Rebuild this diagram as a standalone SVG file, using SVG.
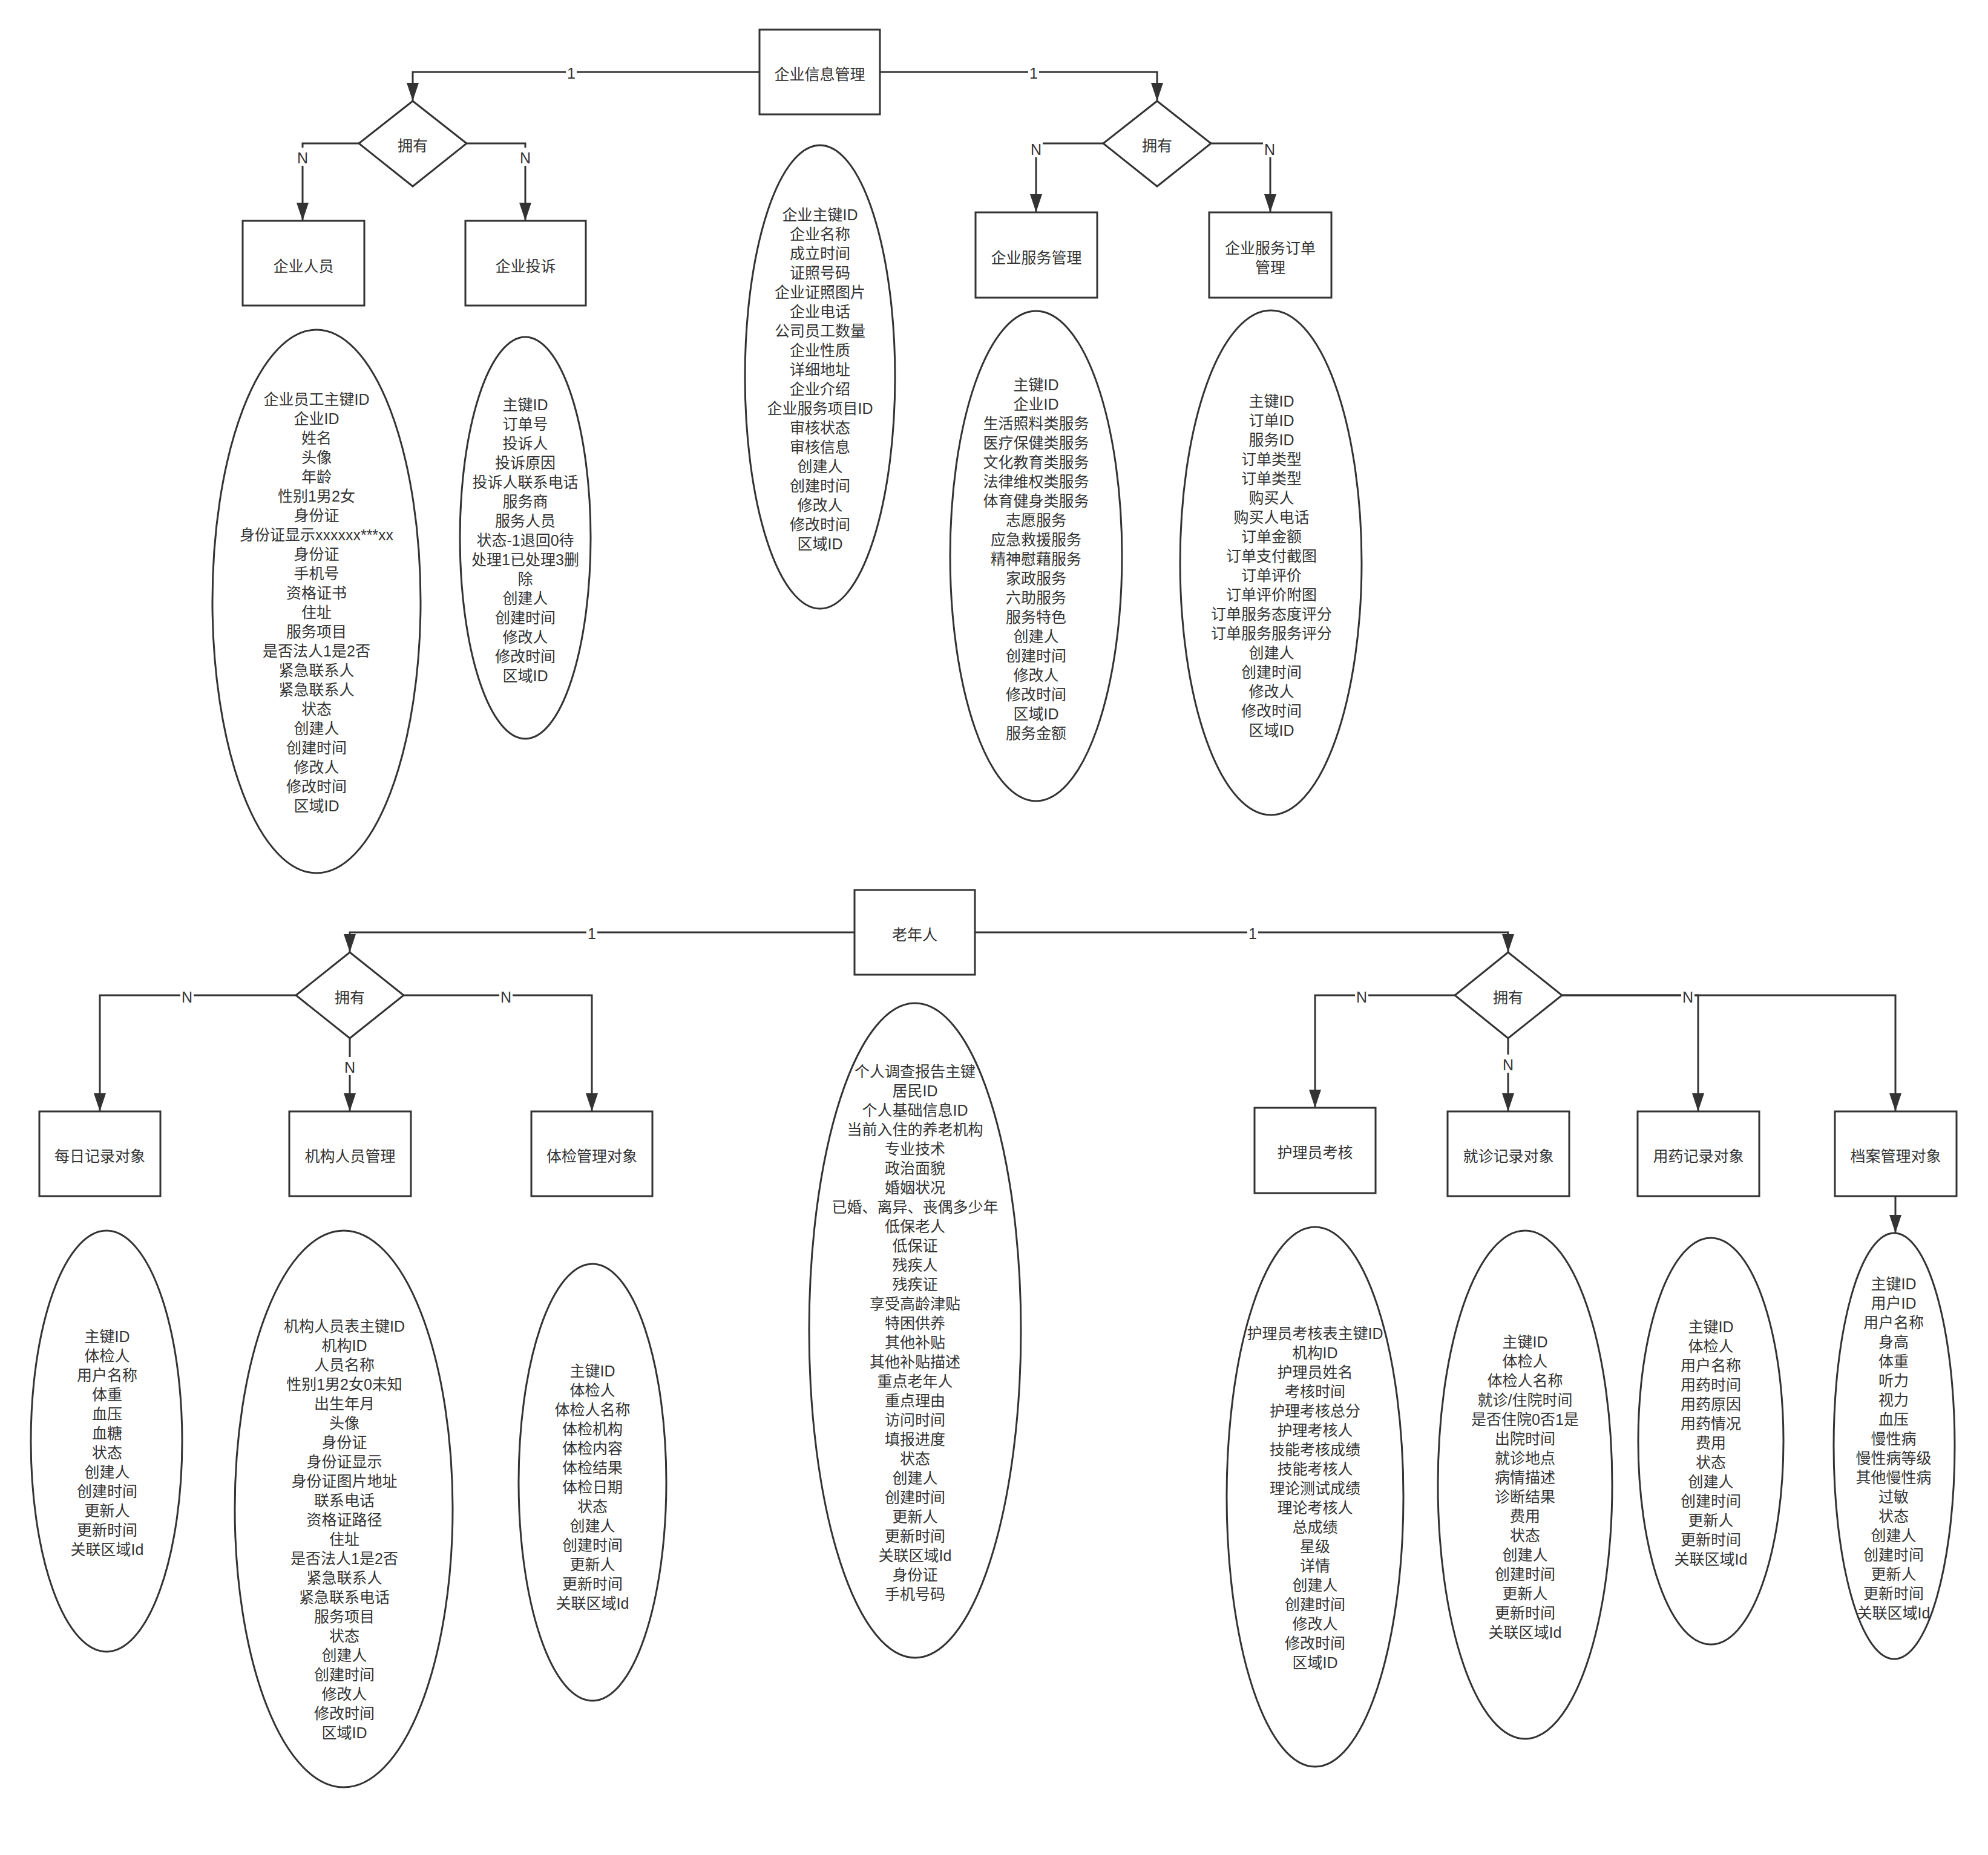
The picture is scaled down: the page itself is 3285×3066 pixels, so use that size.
<svg xmlns="http://www.w3.org/2000/svg" width="3285" height="3066" viewBox="0 0 3285 3066">
<style>
.c{fill:none;stroke:#333;stroke-width:3}
.b{fill:#fff;stroke:#333;stroke-width:3}
.t{font-family:"Liberation Sans","Noto Sans CJK SC",sans-serif;font-size:25px;fill:#333;text-anchor:middle;dominant-baseline:central}
.lb{fill:#fff}
</style>
<defs>
<marker id="arr" markerUnits="userSpaceOnUse" markerWidth="30" markerHeight="20" refX="30" refY="10" orient="auto" viewBox="0 0 30 20">
<path d="M0,0 L30,10 L0,20 Z" fill="#333"/>
</marker>
</defs>
<rect width="3285" height="3066" fill="#fff"/>

<g id="connectors">
<path class="c" d="M1255,119 H682 V167" marker-end="url(#arr)"/>
<path class="c" d="M1454,119 H1912 V167" marker-end="url(#arr)"/>
<path class="c" d="M593,237 H500 V365" marker-end="url(#arr)"/>
<path class="c" d="M771,237 H868 V365" marker-end="url(#arr)"/>
<path class="c" d="M1823,237 H1712 V351" marker-end="url(#arr)"/>
<path class="c" d="M2001,237 H2099 V351" marker-end="url(#arr)"/>
<path class="c" d="M1412,1541 H578 V1574" marker-end="url(#arr)"/>
<path class="c" d="M1611,1541 H2492 V1574" marker-end="url(#arr)"/>
<path class="c" d="M489,1645 H165 V1837" marker-end="url(#arr)"/>
<path class="c" d="M578,1716 V1837" marker-end="url(#arr)"/>
<path class="c" d="M667,1645 H978 V1837" marker-end="url(#arr)"/>
<path class="c" d="M2404,1645 H2173 V1831" marker-end="url(#arr)"/>
<path class="c" d="M2492,1716 V1837" marker-end="url(#arr)"/>
<path class="c" d="M2581,1645 H2806 V1837" marker-end="url(#arr)"/>
<path class="c" d="M2581,1645 H3132 V1837" marker-end="url(#arr)"/>
<path class="c" d="M3132,1977 V2038" marker-end="url(#arr)"/>
<g id="edge-labels">
<rect class="lb" x="935" y="104" width="18" height="30"/><text class="t" x="944" y="121">1</text>
<rect class="lb" x="1699" y="104" width="18" height="30"/><text class="t" x="1708" y="121">1</text>
<rect class="lb" x="489" y="244" width="22" height="30"/><text class="t" x="500" y="261">N</text>
<rect class="lb" x="857" y="244" width="22" height="30"/><text class="t" x="868" y="261">N</text>
<rect class="lb" x="1701" y="230" width="22" height="30"/><text class="t" x="1712" y="247">N</text>
<rect class="lb" x="2087" y="230" width="22" height="30"/><text class="t" x="2098" y="247">N</text>
<rect class="lb" x="969" y="1526" width="18" height="30"/><text class="t" x="978" y="1543">1</text>
<rect class="lb" x="2061" y="1526" width="18" height="30"/><text class="t" x="2070" y="1543">1</text>
<rect class="lb" x="298" y="1631" width="22" height="30"/><text class="t" x="309" y="1648">N</text>
<rect class="lb" x="825" y="1631" width="22" height="30"/><text class="t" x="836" y="1648">N</text>
<rect class="lb" x="567" y="1747" width="22" height="30"/><text class="t" x="578" y="1764">N</text>
<rect class="lb" x="2239" y="1631" width="22" height="30"/><text class="t" x="2250" y="1648">N</text>
<rect class="lb" x="2778" y="1631" width="22" height="30"/><text class="t" x="2789" y="1648">N</text>
<rect class="lb" x="2481" y="1743" width="22" height="30"/><text class="t" x="2492" y="1760">N</text>
</g>
</g>

<g id="n-qyxxgl"><rect class="b" x="1255" y="49" width="199" height="140"/><text class="t" x="1354.5" y="123">企业信息管理</text></g>
<g id="d-top-left"><polygon class="b" points="682,167 771,237 682,308 593,237"/><text class="t" x="682" y="241">拥有</text></g>
<g id="d-top-right"><polygon class="b" points="1912,167 2001,237 1912,308 1823,237"/><text class="t" x="1912" y="241">拥有</text></g>
<g id="n-qyry"><rect class="b" x="401" y="365" width="201" height="140"/><text class="t" x="501.5" y="440">企业人员</text></g>
<g id="n-qyts"><rect class="b" x="769" y="365" width="199" height="140"/><text class="t" x="868.5" y="440">企业投诉</text></g>
<g id="n-qyfwgl"><rect class="b" x="1612" y="351" width="201" height="141"/><text class="t" x="1712.5" y="426">企业服务管理</text></g>
<g id="n-qyfwddgl"><rect class="b" x="1998" y="351" width="202" height="141"/><text class="t" x="2099" y="426"><tspan x="2099" dy="-16">企业服务订单</tspan><tspan x="2099" dy="32">管理</tspan></text></g>

<g id="e-qyry"><ellipse class="b" cx="523" cy="994" rx="172" ry="449"/>
<text class="t" x="523" y="660"><tspan x="523" dy="0">企业员工主键ID</tspan><tspan x="523" dy="32">企业ID</tspan><tspan x="523" dy="32">姓名</tspan><tspan x="523" dy="32">头像</tspan><tspan x="523" dy="32">年龄</tspan><tspan x="523" dy="32">性别1男2女</tspan><tspan x="523" dy="32">身份证</tspan><tspan x="523" dy="32">身份证显示xxxxxx***xx</tspan><tspan x="523" dy="32">身份证</tspan><tspan x="523" dy="32">手机号</tspan><tspan x="523" dy="32">资格证书</tspan><tspan x="523" dy="32">住址</tspan><tspan x="523" dy="32">服务项目</tspan><tspan x="523" dy="32">是否法人1是2否</tspan><tspan x="523" dy="32">紧急联系人</tspan><tspan x="523" dy="32">紧急联系人</tspan><tspan x="523" dy="32">状态</tspan><tspan x="523" dy="32">创建人</tspan><tspan x="523" dy="32">创建时间</tspan><tspan x="523" dy="32">修改人</tspan><tspan x="523" dy="32">修改时间</tspan><tspan x="523" dy="32">区域ID</tspan></text></g>

<g id="e-qyts"><ellipse class="b" cx="868" cy="889" rx="108" ry="332"/>
<text class="t" x="868" y="669"><tspan x="868" dy="0">主键ID</tspan><tspan x="868" dy="32">订单号</tspan><tspan x="868" dy="32">投诉人</tspan><tspan x="868" dy="32">投诉原因</tspan><tspan x="868" dy="32">投诉人联系电话</tspan><tspan x="868" dy="32">服务商</tspan><tspan x="868" dy="32">服务人员</tspan><tspan x="868" dy="32">状态-1退回0待</tspan><tspan x="868" dy="32">处理1已处理3删</tspan><tspan x="868" dy="32">除</tspan><tspan x="868" dy="32">创建人</tspan><tspan x="868" dy="32">创建时间</tspan><tspan x="868" dy="32">修改人</tspan><tspan x="868" dy="32">修改时间</tspan><tspan x="868" dy="32">区域ID</tspan></text></g>

<g id="e-qyxx"><ellipse class="b" cx="1355" cy="623" rx="124" ry="383"/>
<text class="t" x="1355" y="355"><tspan x="1355" dy="0">企业主键ID</tspan><tspan x="1355" dy="32">企业名称</tspan><tspan x="1355" dy="32">成立时间</tspan><tspan x="1355" dy="32">证照号码</tspan><tspan x="1355" dy="32">企业证照图片</tspan><tspan x="1355" dy="32">企业电话</tspan><tspan x="1355" dy="32">公司员工数量</tspan><tspan x="1355" dy="32">企业性质</tspan><tspan x="1355" dy="32">详细地址</tspan><tspan x="1355" dy="32">企业介绍</tspan><tspan x="1355" dy="32">企业服务项目ID</tspan><tspan x="1355" dy="32">审核状态</tspan><tspan x="1355" dy="32">审核信息</tspan><tspan x="1355" dy="32">创建人</tspan><tspan x="1355" dy="32">创建时间</tspan><tspan x="1355" dy="32">修改人</tspan><tspan x="1355" dy="32">修改时间</tspan><tspan x="1355" dy="32">区域ID</tspan></text></g>

<g id="e-qyfw"><ellipse class="b" cx="1712" cy="919" rx="142" ry="405"/>
<text class="t" x="1712" y="636"><tspan x="1712" dy="0">主键ID</tspan><tspan x="1712" dy="32">企业ID</tspan><tspan x="1712" dy="32">生活照料类服务</tspan><tspan x="1712" dy="32">医疗保健类服务</tspan><tspan x="1712" dy="32">文化教育类服务</tspan><tspan x="1712" dy="32">法律维权类服务</tspan><tspan x="1712" dy="32">体育健身类服务</tspan><tspan x="1712" dy="32">志愿服务</tspan><tspan x="1712" dy="32">应急救援服务</tspan><tspan x="1712" dy="32">精神慰藉服务</tspan><tspan x="1712" dy="32">家政服务</tspan><tspan x="1712" dy="32">六助服务</tspan><tspan x="1712" dy="32">服务特色</tspan><tspan x="1712" dy="32">创建人</tspan><tspan x="1712" dy="32">创建时间</tspan><tspan x="1712" dy="32">修改人</tspan><tspan x="1712" dy="32">修改时间</tspan><tspan x="1712" dy="32">区域ID</tspan><tspan x="1712" dy="32">服务金额</tspan></text></g>

<g id="e-qydd"><ellipse class="b" cx="2100" cy="930" rx="150" ry="417"/>
<text class="t" x="2101" y="663"><tspan x="2101" dy="0">主键ID</tspan><tspan x="2101" dy="32">订单ID</tspan><tspan x="2101" dy="32">服务ID</tspan><tspan x="2101" dy="32">订单类型</tspan><tspan x="2101" dy="32">订单类型</tspan><tspan x="2101" dy="32">购买人</tspan><tspan x="2101" dy="32">购买人电话</tspan><tspan x="2101" dy="32">订单金额</tspan><tspan x="2101" dy="32">订单支付截图</tspan><tspan x="2101" dy="32">订单评价</tspan><tspan x="2101" dy="32">订单评价附图</tspan><tspan x="2101" dy="32">订单服务态度评分</tspan><tspan x="2101" dy="32">订单服务服务评分</tspan><tspan x="2101" dy="32">创建人</tspan><tspan x="2101" dy="32">创建时间</tspan><tspan x="2101" dy="32">修改人</tspan><tspan x="2101" dy="32">修改时间</tspan><tspan x="2101" dy="32">区域ID</tspan></text></g>

<g id="n-lnr"><rect class="b" x="1412" y="1471" width="199" height="140"/><text class="t" x="1511.5" y="1545">老年人</text></g>
<g id="d-bot-left"><polygon class="b" points="578,1574 667,1645 578,1716 489,1645"/><text class="t" x="578" y="1649">拥有</text></g>
<g id="d-bot-right"><polygon class="b" points="2492,1574 2581,1645 2492,1716 2404,1645"/><text class="t" x="2492" y="1649">拥有</text></g>
<g id="n-mrjl"><rect class="b" x="65" y="1837" width="200" height="140"/><text class="t" x="165" y="1911">每日记录对象</text></g>
<g id="n-jgry"><rect class="b" x="478" y="1837" width="201" height="140"/><text class="t" x="578.5" y="1911">机构人员管理</text></g>
<g id="n-tjgl"><rect class="b" x="878" y="1837" width="200" height="140"/><text class="t" x="978" y="1911">体检管理对象</text></g>
<g id="n-hlykh"><rect class="b" x="2073" y="1831" width="200" height="141"/><text class="t" x="2173" y="1905">护理员考核</text></g>
<g id="n-jzjl"><rect class="b" x="2392" y="1837" width="201" height="140"/><text class="t" x="2492.5" y="1911">就诊记录对象</text></g>
<g id="n-yyjl"><rect class="b" x="2706" y="1837" width="201" height="140"/><text class="t" x="2806.5" y="1911">用药记录对象</text></g>
<g id="n-dagl"><rect class="b" x="3032" y="1837" width="201" height="140"/><text class="t" x="3132.5" y="1911">档案管理对象</text></g>

<g id="e-mrjl"><ellipse class="b" cx="176" cy="2382" rx="125" ry="348"/>
<text class="t" x="177" y="2209"><tspan x="177" dy="0">主键ID</tspan><tspan x="177" dy="32">体检人</tspan><tspan x="177" dy="32">用户名称</tspan><tspan x="177" dy="32">体重</tspan><tspan x="177" dy="32">血压</tspan><tspan x="177" dy="32">血糖</tspan><tspan x="177" dy="32">状态</tspan><tspan x="177" dy="32">创建人</tspan><tspan x="177" dy="32">创建时间</tspan><tspan x="177" dy="32">更新人</tspan><tspan x="177" dy="32">更新时间</tspan><tspan x="177" dy="32">关联区域Id</tspan></text></g>

<g id="e-jgry"><ellipse class="b" cx="568" cy="2494" rx="180" ry="460"/>
<text class="t" x="569" y="2192"><tspan x="569" dy="0">机构人员表主键ID</tspan><tspan x="569" dy="32">机构ID</tspan><tspan x="569" dy="32">人员名称</tspan><tspan x="569" dy="32">性别1男2女0未知</tspan><tspan x="569" dy="32">出生年月</tspan><tspan x="569" dy="32">头像</tspan><tspan x="569" dy="32">身份证</tspan><tspan x="569" dy="32">身份证显示</tspan><tspan x="569" dy="32">身份证图片地址</tspan><tspan x="569" dy="32">联系电话</tspan><tspan x="569" dy="32">资格证路径</tspan><tspan x="569" dy="32">住址</tspan><tspan x="569" dy="32">是否法人1是2否</tspan><tspan x="569" dy="32">紧急联系人</tspan><tspan x="569" dy="32">紧急联系电话</tspan><tspan x="569" dy="32">服务项目</tspan><tspan x="569" dy="32">状态</tspan><tspan x="569" dy="32">创建人</tspan><tspan x="569" dy="32">创建时间</tspan><tspan x="569" dy="32">修改人</tspan><tspan x="569" dy="32">修改时间</tspan><tspan x="569" dy="32">区域ID</tspan></text></g>

<g id="e-tjgl"><ellipse class="b" cx="979" cy="2450" rx="122" ry="361"/>
<text class="t" x="979" y="2266"><tspan x="979" dy="0">主键ID</tspan><tspan x="979" dy="32">体检人</tspan><tspan x="979" dy="32">体检人名称</tspan><tspan x="979" dy="32">体检机构</tspan><tspan x="979" dy="32">体检内容</tspan><tspan x="979" dy="32">体检结果</tspan><tspan x="979" dy="32">体检日期</tspan><tspan x="979" dy="32">状态</tspan><tspan x="979" dy="32">创建人</tspan><tspan x="979" dy="32">创建时间</tspan><tspan x="979" dy="32">更新人</tspan><tspan x="979" dy="32">更新时间</tspan><tspan x="979" dy="32">关联区域Id</tspan></text></g>

<g id="e-lnr"><ellipse class="b" cx="1512" cy="2199" rx="175" ry="541"/>
<text class="t" x="1512" y="1771"><tspan x="1512" dy="0">个人调查报告主键</tspan><tspan x="1512" dy="32">居民ID</tspan><tspan x="1512" dy="32">个人基础信息ID</tspan><tspan x="1512" dy="32">当前入住的养老机构</tspan><tspan x="1512" dy="32">专业技术</tspan><tspan x="1512" dy="32">政治面貌</tspan><tspan x="1512" dy="32">婚姻状况</tspan><tspan x="1512" dy="32">已婚、离异、丧偶多少年</tspan><tspan x="1512" dy="32">低保老人</tspan><tspan x="1512" dy="32">低保证</tspan><tspan x="1512" dy="32">残疾人</tspan><tspan x="1512" dy="32">残疾证</tspan><tspan x="1512" dy="32">享受高龄津贴</tspan><tspan x="1512" dy="32">特困供养</tspan><tspan x="1512" dy="32">其他补贴</tspan><tspan x="1512" dy="32">其他补贴描述</tspan><tspan x="1512" dy="32">重点老年人</tspan><tspan x="1512" dy="32">重点理由</tspan><tspan x="1512" dy="32">访问时间</tspan><tspan x="1512" dy="32">填报进度</tspan><tspan x="1512" dy="32">状态</tspan><tspan x="1512" dy="32">创建人</tspan><tspan x="1512" dy="32">创建时间</tspan><tspan x="1512" dy="32">更新人</tspan><tspan x="1512" dy="32">更新时间</tspan><tspan x="1512" dy="32">关联区域Id</tspan><tspan x="1512" dy="32">身份证</tspan><tspan x="1512" dy="32">手机号码</tspan></text></g>

<g id="e-hlykh"><ellipse class="b" cx="2173" cy="2474" rx="146" ry="446"/>
<text class="t" x="2173" y="2204"><tspan x="2173" dy="0">护理员考核表主键ID</tspan><tspan x="2173" dy="32">机构ID</tspan><tspan x="2173" dy="32">护理员姓名</tspan><tspan x="2173" dy="32">考核时间</tspan><tspan x="2173" dy="32">护理考核总分</tspan><tspan x="2173" dy="32">护理考核人</tspan><tspan x="2173" dy="32">技能考核成绩</tspan><tspan x="2173" dy="32">技能考核人</tspan><tspan x="2173" dy="32">理论测试成绩</tspan><tspan x="2173" dy="32">理论考核人</tspan><tspan x="2173" dy="32">总成绩</tspan><tspan x="2173" dy="32">星级</tspan><tspan x="2173" dy="32">详情</tspan><tspan x="2173" dy="32">创建人</tspan><tspan x="2173" dy="32">创建时间</tspan><tspan x="2173" dy="32">修改人</tspan><tspan x="2173" dy="32">修改时间</tspan><tspan x="2173" dy="32">区域ID</tspan></text></g>

<g id="e-jzjl"><ellipse class="b" cx="2520" cy="2454" rx="144" ry="420"/>
<text class="t" x="2520" y="2218"><tspan x="2520" dy="0">主键ID</tspan><tspan x="2520" dy="32">体检人</tspan><tspan x="2520" dy="32">体检人名称</tspan><tspan x="2520" dy="32">就诊/住院时间</tspan><tspan x="2520" dy="32">是否住院0否1是</tspan><tspan x="2520" dy="32">出院时间</tspan><tspan x="2520" dy="32">就诊地点</tspan><tspan x="2520" dy="32">病情描述</tspan><tspan x="2520" dy="32">诊断结果</tspan><tspan x="2520" dy="32">费用</tspan><tspan x="2520" dy="32">状态</tspan><tspan x="2520" dy="32">创建人</tspan><tspan x="2520" dy="32">创建时间</tspan><tspan x="2520" dy="32">更新人</tspan><tspan x="2520" dy="32">更新时间</tspan><tspan x="2520" dy="32">关联区域Id</tspan></text></g>

<g id="e-yyjl"><ellipse class="b" cx="2827" cy="2382" rx="120" ry="336"/>
<text class="t" x="2827" y="2193"><tspan x="2827" dy="0">主键ID</tspan><tspan x="2827" dy="32">体检人</tspan><tspan x="2827" dy="32">用户名称</tspan><tspan x="2827" dy="32">用药时间</tspan><tspan x="2827" dy="32">用药原因</tspan><tspan x="2827" dy="32">用药情况</tspan><tspan x="2827" dy="32">费用</tspan><tspan x="2827" dy="32">状态</tspan><tspan x="2827" dy="32">创建人</tspan><tspan x="2827" dy="32">创建时间</tspan><tspan x="2827" dy="32">更新人</tspan><tspan x="2827" dy="32">更新时间</tspan><tspan x="2827" dy="32">关联区域Id</tspan></text></g>

<g id="e-dagl"><ellipse class="b" cx="3130" cy="2390" rx="100" ry="352"/>
<text class="t" x="3129" y="2122"><tspan x="3129" dy="0">主键ID</tspan><tspan x="3129" dy="32">用户ID</tspan><tspan x="3129" dy="32">用户名称</tspan><tspan x="3129" dy="32">身高</tspan><tspan x="3129" dy="32">体重</tspan><tspan x="3129" dy="32">听力</tspan><tspan x="3129" dy="32">视力</tspan><tspan x="3129" dy="32">血压</tspan><tspan x="3129" dy="32">慢性病</tspan><tspan x="3129" dy="32">慢性病等级</tspan><tspan x="3129" dy="32">其他慢性病</tspan><tspan x="3129" dy="32">过敏</tspan><tspan x="3129" dy="32">状态</tspan><tspan x="3129" dy="32">创建人</tspan><tspan x="3129" dy="32">创建时间</tspan><tspan x="3129" dy="32">更新人</tspan><tspan x="3129" dy="32">更新时间</tspan><tspan x="3129" dy="32">关联区域Id</tspan></text></g>
</svg>
